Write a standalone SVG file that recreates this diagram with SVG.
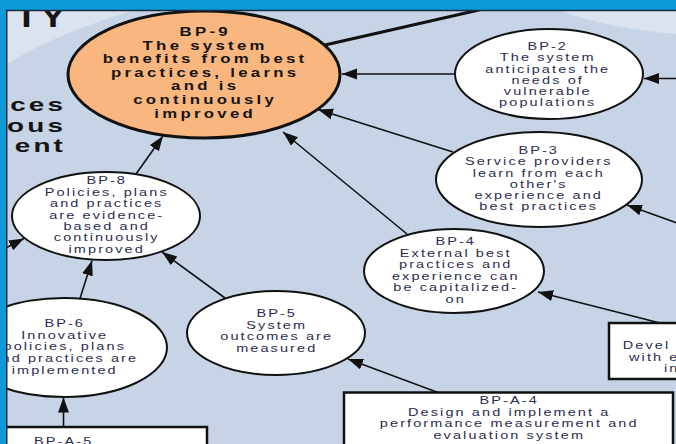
<svg xmlns="http://www.w3.org/2000/svg" width="676" height="444" viewBox="0 0 676 444">
<style>
.r{font-family:"Liberation Sans",Arial,sans-serif;font-size:10px;fill:#2b2d4f;text-anchor:middle;letter-spacing:1.45px}
.rs{font-family:"Liberation Sans",Arial,sans-serif;font-size:10px;fill:#2b2d4f;text-anchor:start;letter-spacing:1.45px}
.b{font-family:"Liberation Sans",Arial,sans-serif;font-size:12px;font-weight:bold;fill:#151515;text-anchor:middle;letter-spacing:2.35px}
.big{font-family:"Liberation Sans",Arial,sans-serif;font-weight:bold;fill:#151515;text-anchor:end;letter-spacing:2px}
.node{fill:#ffffff;stroke:#111;stroke-width:2}
.box{fill:#ffffff;stroke:#111;stroke-width:2.5}
.edge{stroke:#111;stroke-width:1.6;fill:none;marker-end:url(#arr)}
</style>
<defs>
<marker id="arr" markerUnits="userSpaceOnUse" markerWidth="17" markerHeight="12" refX="15" refY="5.5" orient="auto">
<path d="M0,0 L15,5.5 L0,11 Z" fill="#111"/>
</marker>
</defs>
<rect x="0" y="0" width="676" height="444" fill="#c6d4e6"/>
<path d="M7,64 Q55,34 132,11 L7,11 Z" fill="#dbe3ef"/>
<path d="M560,11 Q612,29 676,34 L676,11 Z" fill="#dbe3ef"/>
<text class="big" font-size="30" transform="translate(68 27) scale(1.25 1)" x="0" y="0">TY</text>
<text class="big" font-size="18" transform="translate(66 0) scale(1.55 1)"><tspan x="0" y="111.5">ces</tspan><tspan x="0" y="132">uous</tspan><tspan x="0" y="152.5">ent</tspan></text>
<g id="connectors">
<line x1="325" y1="45" x2="492" y2="7" stroke="#111" stroke-width="3"/>
<line class="edge" x1="455" y1="74" x2="342" y2="74"/>
<line class="edge" x1="680" y1="78.5" x2="644" y2="78.5"/>
<line class="edge" x1="453" y1="152" x2="318" y2="109.5"/>
<line class="edge" x1="680" y1="224" x2="627" y2="205"/>
<line class="edge" x1="407" y1="234" x2="283" y2="132"/>
<line class="edge" x1="660" y1="323" x2="538" y2="292"/>
<line class="edge" x1="438" y1="392.5" x2="348" y2="359"/>
<line class="edge" x1="225" y1="298" x2="162" y2="252"/>
<line class="edge" x1="80" y1="298.5" x2="92" y2="260.5"/>
<line class="edge" x1="63.5" y1="427" x2="63.5" y2="397.5"/>
<line class="edge" x1="136" y1="174" x2="163" y2="136"/>
<line class="edge" x1="0" y1="251" x2="24" y2="238.5"/>
</g>
<g id="bp9">
<ellipse cx="204" cy="74.5" rx="136" ry="63.5" fill="#f9b67f" stroke="#111" stroke-width="3"/>
<text class="b" transform="translate(204 0) scale(1.4 1)"><tspan x="0.84" y="36">BP-9</tspan><tspan x="0.84" y="49.6">The system</tspan><tspan x="0.84" y="63.2">benefits from best</tspan><tspan x="0.84" y="76.8">practices, learns</tspan><tspan x="0.84" y="90.4">and is</tspan><tspan x="0.84" y="104">continuously</tspan><tspan x="0.84" y="117.6">improved</tspan></text>
</g>
<g id="bp2">
<ellipse class="node" cx="549" cy="74" rx="94" ry="45"/>
<text class="r" transform="translate(547 0) scale(1.45 1)"><tspan x="0.5" y="50">BP-2</tspan><tspan x="0.5" y="61.3">The system</tspan><tspan x="0.5" y="72.6">anticipates the</tspan><tspan x="0.5" y="83.9">needs of</tspan><tspan x="0.5" y="95.2">vulnerable</tspan><tspan x="0.5" y="106.5">populations</tspan></text>
</g>
<g id="bp3">
<ellipse class="node" cx="539" cy="179.5" rx="103" ry="47.5"/>
<text class="r" transform="translate(538 0) scale(1.45 1)"><tspan x="0.5" y="154">BP-3</tspan><tspan x="0.5" y="165.3">Service providers</tspan><tspan x="0.5" y="176.6">learn from each</tspan><tspan x="0.5" y="187.9">other's</tspan><tspan x="0.5" y="199.2">experience and</tspan><tspan x="0.5" y="210.5">best practices</tspan></text>
</g>
<g id="bp4">
<ellipse class="node" cx="454" cy="271" rx="90" ry="42"/>
<text class="r" transform="translate(455 0) scale(1.45 1)"><tspan x="0.5" y="245.5">BP-4</tspan><tspan x="0.5" y="257">External best</tspan><tspan x="0.5" y="268.5">practices and</tspan><tspan x="0.5" y="280">experience can</tspan><tspan x="0.5" y="291.5">be capitalized-</tspan><tspan x="0.5" y="303">on</tspan></text>
</g>
<g id="bp5">
<ellipse class="node" cx="276" cy="333" rx="89" ry="42"/>
<text class="r" transform="translate(276 0) scale(1.45 1)"><tspan x="0.5" y="317.5">BP-5</tspan><tspan x="0.5" y="329">System</tspan><tspan x="0.5" y="340.5">outcomes are</tspan><tspan x="0.5" y="352">measured</tspan></text>
</g>
<g id="bp8">
<ellipse class="node" cx="106" cy="216" rx="94" ry="44"/>
<text class="r" transform="translate(106 0) scale(1.45 1)"><tspan x="0.5" y="184.5">BP-8</tspan><tspan x="0.5" y="195.9">Policies, plans</tspan><tspan x="0.5" y="207.3">and practices</tspan><tspan x="0.5" y="218.7">are evidence-</tspan><tspan x="0.5" y="230.1">based and</tspan><tspan x="0.5" y="241.5">continuously</tspan><tspan x="0.5" y="252.9">improved</tspan></text>
</g>
<g id="bp6">
<ellipse class="node" cx="64" cy="347.5" rx="103" ry="49.5"/>
<text class="r" transform="translate(64 0) scale(1.45 1)"><tspan x="0.5" y="327.3">BP-6</tspan><tspan x="0.5" y="338.9">Innovative</tspan><tspan x="0.5" y="350.5">policies, plans</tspan><tspan x="0.5" y="362.1">and practices are</tspan><tspan x="0.5" y="373.7">implemented</tspan></text>
</g>
<g id="bpa5">
<rect class="box" x="-80" y="427" width="287" height="40"/>
<text class="r" transform="translate(63 0) scale(1.45 1)"><tspan x="0.5" y="445">BP-A-5</tspan></text>
</g>
<g id="bpa4">
<rect class="box" x="344" y="392.5" width="329" height="70"/>
<text class="r" transform="translate(508.5 0) scale(1.45 1)"><tspan x="0.5" y="404.5">BP-A-4</tspan><tspan x="0.5" y="416">Design and implement a</tspan><tspan x="0.5" y="427.5">performance measurement and</tspan><tspan x="0.5" y="439">evaluation system</tspan></text>
</g>
<g id="develop">
<rect class="box" x="609" y="323" width="120" height="56"/>
<text class="rs" transform="translate(622.7 349) scale(1.45 1)" x="0" y="0">Devel</text>
<text class="rs" transform="translate(629 360.5) scale(1.45 1)" x="0" y="0">with e</text>
<text class="rs" transform="translate(664 372) scale(1.45 1)" x="0" y="0">in</text>
</g>
<rect x="0" y="0" width="676" height="10" fill="#0b9bd7"/>
<rect x="0" y="0" width="6.5" height="444" fill="#0b9bd7"/>
<line x1="6" y1="10.5" x2="676" y2="10.5" stroke="#1b2b45" stroke-width="1.5"/>
<line x1="6.75" y1="10" x2="6.75" y2="444" stroke="#1b2b45" stroke-width="1.5"/>
</svg>
